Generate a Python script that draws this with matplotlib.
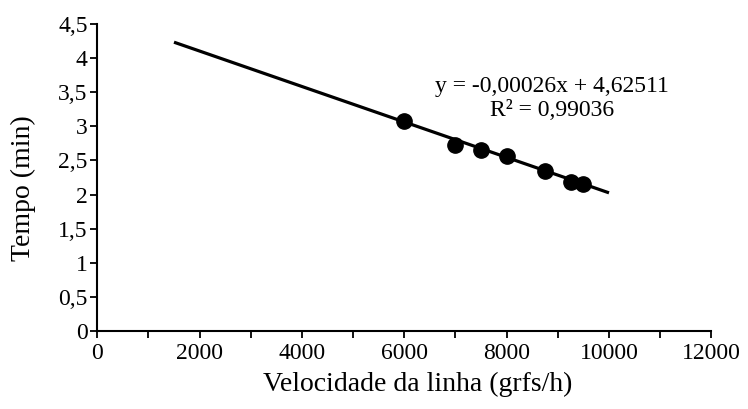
import numpy as np
import matplotlib
matplotlib.use("Agg")
import matplotlib.pyplot as plt

plt.rcParams['font.family'] = ['Liberation Serif', 'DejaVu Serif']

# measured points
velocidade = [6000, 7000, 7500, 8000, 8750, 9250, 9500]
tempo = [3.08, 2.73, 2.66, 2.57, 2.35, 2.19, 2.16]

# linear trend shown on the chart
slope = -0.00026
intercept = 4.62511
r2 = 0.99036
trend_x = [1500, 10000]

x_ticks = [0, 2000, 4000, 6000, 8000, 10000, 12000]
y_ticks = [0, 0.5, 1, 1.5, 2, 2.5, 3, 3.5, 4, 4.5]

fig = plt.figure(figsize=(7.48, 4.09), dpi=100)
ax = fig.add_axes([0.130, 0.191, 0.821, 0.750])

tx = np.array(trend_x)
ax.plot(tx, slope * tx + intercept, color='black', linewidth=2.3, solid_capstyle='butt', zorder=2)
ax.plot(velocidade, tempo, 'o', color='black', markersize=11, zorder=3)

ax.set_xlim(0, 12000)
ax.set_ylim(0, 4.5)
ax.set_xticks(x_ticks)
ax.set_xticks(np.arange(1000, 12000, 2000), minor=True)
ax.set_yticks(y_ticks)
ax.set_xticklabels([str(v) for v in x_ticks])
ax.set_yticklabels([('%g' % v).replace('.', ',') for v in y_ticks])

for s in ['top', 'right']:
    ax.spines[s].set_visible(False)
for s in ['left', 'bottom']:
    ax.spines[s].set_linewidth(1.5)
ax.tick_params(which='both', direction='out', length=5, width=1.3, labelsize=17, colors='black')
ax.tick_params(axis='x', pad=4)
ax.tick_params(axis='y', pad=2)

ax.set_xlabel('Velocidade da linha (grfs/h)', fontsize=20)
ax.set_ylabel('Tempo (min)', fontsize=20)
ax.xaxis.label.set_va('center')
ax.yaxis.label.set_va('center')
ax.xaxis.set_label_coords(0.522, -0.173)
ax.yaxis.set_label_coords(-0.121, 0.467)

eq = 'y = ' + ('%.5f' % slope).replace('.', ',') + 'x + ' + ('%.5f' % intercept).replace('.', ',')
eq += '\nR² = ' + ('%.5f' % r2).replace('.', ',')
ax.text(8880, 3.41, eq, ha='center', va='center', fontsize=17, linespacing=1.2)

fig.savefig('out.png', dpi=100)
